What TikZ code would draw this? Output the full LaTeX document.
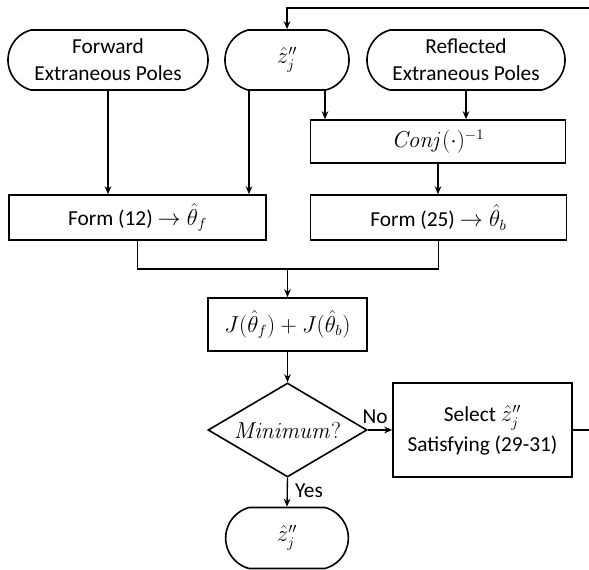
\documentclass[tikz,border=0pt]{standalone}
\usepackage[no-math]{fontspec}
\setmainfont{Carlito}
\usetikzlibrary{shapes.geometric,shapes.misc,arrows.meta}
\begin{document}
\begin{tikzpicture}[x=0.75pt,y=-0.75pt,
  every node/.style={font=\fontsize{16}{20}\selectfont},
  term/.style={draw,rounded rectangle,rounded rectangle arc length=150,minimum height=45pt,inner sep=0pt,align=center,line width=1.2pt},
  proc/.style={draw,rectangle,inner sep=0pt,align=center,line width=1.2pt},
  dec/.style={draw,diamond,shape aspect=1.7,inner sep=0pt,line width=1.2pt},
  arr/.style={-{Stealth[length=6pt,width=5pt]},line width=1pt},
  ln/.style={line width=1pt}]
\useasboundingbox (0,0) rectangle (589,570);

\node[term,minimum width=150pt] (fwd) at (108,60) {Forward\\Extraneous Poles};
\node[term,minimum width=93pt] (z1) at (287,60) {$\hat z_j''$};
\node[term,minimum width=148.5pt] (refl) at (466,60) {Reflected\\Extraneous Poles};
\node[proc,minimum width=191pt,minimum height=32.25pt] (conj) at (438,141.5) {$\mathit{Conj}(\cdot)^{-1}$};
\node[proc,minimum width=193pt,minimum height=33.75pt] (f12) at (137.5,217.5) {Form (12) $\rightarrow \hat\theta_f$};
\node[proc,minimum width=192pt,minimum height=33.75pt] (f25) at (438.5,217.5) {Form (25) $\rightarrow \hat\theta_b$};
\node[proc,minimum width=119.25pt,minimum height=39.75pt] (J) at (287.5,324.5) {$J(\hat\theta_f)+J(\hat\theta_b)$};
\node[dec,minimum width=119.25pt,minimum height=70.5pt] (dia) at (287.5,430) {$\mathit{Minimum?}$};
\node[proc,minimum width=134.25pt,minimum height=70.5pt,font=\fontsize{16}{22}\selectfont] (sel) at (482.5,430) {Select $\hat z_j''$\\Satisfying (29-31)};
\node[term,minimum width=92pt,minimum height=45.75pt] (fin) at (287,538) {$\hat z_j''$};

\coordinate (zl) at ([xshift=-28.5pt]z1.south);
\coordinate (zr) at ([xshift=28.5pt]z1.south);
\coordinate (m) at (287.5,269);
\coordinate (cr) at (595,8);

\draw[arr] (fwd.south) -- (fwd.south |- f12.north);
\draw[arr] (zl) -- (zl |- f12.north);
\draw[arr] (zr) -- (zr |- conj.north);
\draw[arr] (refl.south) -- (refl.south |- conj.north);
\draw[arr] (conj.south) -- (conj.south |- f25.north);
\draw[ln] (f12.south) |- (m) -| (f25.south);
\draw[arr] (m) -- (J.north);
\draw[arr] (J.south) -- (dia.north);
\draw[arr] (dia.east) -- node[above=4pt,pos=0.3,inner sep=0pt] (no) {No} (sel.west);
\draw[arr] (dia.south) -- node[right=2pt,pos=0.45] (yes) {Yes} (fin.north);
\draw[arr] (sel.east) -| (cr) -| (z1.north);
\end{tikzpicture}
\end{document}
